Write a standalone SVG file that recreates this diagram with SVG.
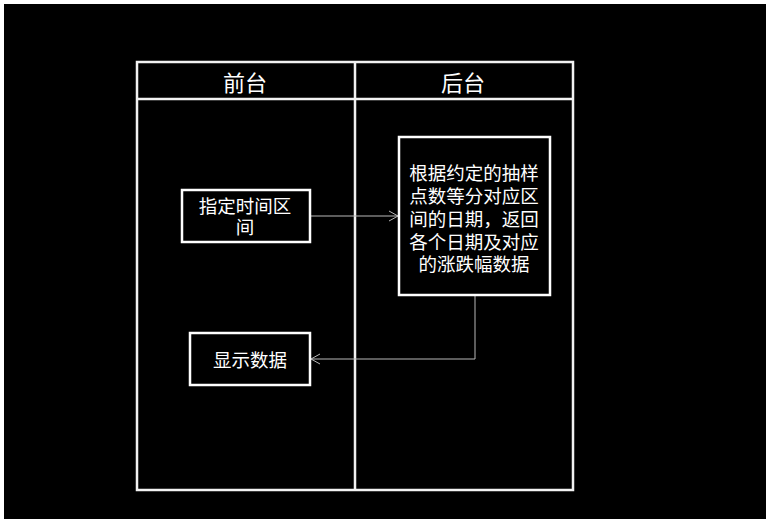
<svg xmlns="http://www.w3.org/2000/svg" width="770" height="523" viewBox="0 0 770 523">
<style>
.box{fill:#000;stroke:#fff;stroke-width:2.5}
.lane{fill:none;stroke:#f2f2f2;stroke-width:2.5}
.t{font-family:"Noto Sans CJK SC","Microsoft YaHei",sans-serif;fill:#fff;text-anchor:middle;dominant-baseline:central}
.n{font-size:18.5px}
.h{font-size:22px}
.c{fill:none;stroke:#b8b8b8;stroke-width:1}
</style>
<defs>
<marker id="ah" markerWidth="12" markerHeight="12" refX="10" refY="6" orient="auto" markerUnits="userSpaceOnUse">
<path d="M1,1 L10,6 L1,11" fill="none" stroke="#b8b8b8" stroke-width="1"/>
</marker>
</defs>
<rect x="0" y="0" width="770" height="523" fill="#fff"/>
<rect x="4" y="4" width="762" height="515" fill="#000"/>
<g id="lanes">
<rect class="lane" x="137" y="62" width="436" height="428"/>
<line class="lane" x1="137" y1="99" x2="573" y2="99"/>
<line class="lane" x1="355" y1="62" x2="355" y2="490"/>
<text class="t h" x="245" y="81">前台</text>
<text class="t h" x="463" y="81">后台</text>
</g>
<g id="connectors">
<line class="c" x1="311" y1="216" x2="398" y2="216" marker-end="url(#ah)"/>
<polyline class="c" points="475,296 475,359 311,359" marker-end="url(#ah)"/>
</g>
<g id="node-specify">
<rect class="box" x="182" y="190" width="128" height="52"/>
<text class="t n" x="245" y="205">指定时间区</text>
<text class="t n" x="245" y="226">间</text>
</g>
<g id="node-backend">
<rect class="box" x="399" y="137" width="151" height="158"/>
<text class="t n" x="474" y="172">根据约定的抽样</text>
<text class="t n" x="474" y="195">点数等分对应区</text>
<text class="t n" x="474" y="218">间的日期，返回</text>
<text class="t n" x="474" y="241">各个日期及对应</text>
<text class="t n" x="474" y="263">的涨跌幅数据</text>
</g>
<g id="node-show">
<rect class="box" x="190" y="333" width="120" height="52"/>
<text class="t n" x="250" y="359">显示数据</text>
</g>
</svg>
